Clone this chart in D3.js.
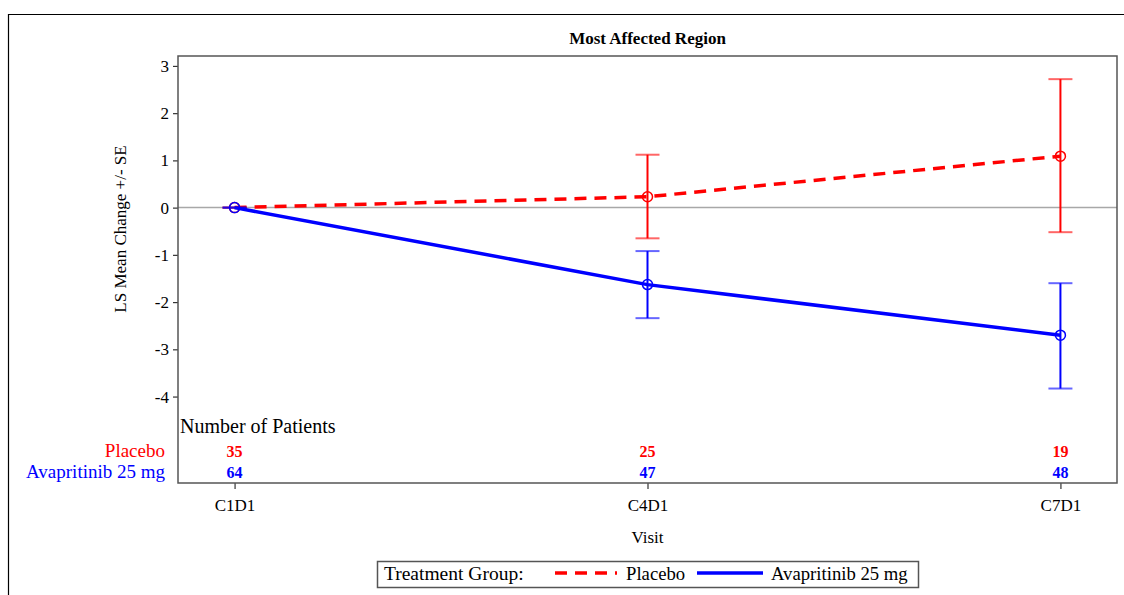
<!DOCTYPE html>
<html>
<head>
<meta charset="utf-8">
<script src="https://cdn.jsdelivr.net/npm/d3@7"></script>
<style>
  body { margin: 0; background: #fff; }
  svg { display: block; font-family: "Liberation Serif", "Times New Roman", serif; }
</style>
</head>
<body>
<div id="chart"></div>
<script>
// data
var visits = ["C1D1", "C4D1", "C7D1"];
var groups = ["Placebo", "Avapritinib 25 mg"];
var placeboMean = [0, 0.23, 1.09];
var placeboLower = [0, -0.65, -0.52];
var placeboUpper = [0, 1.12, 2.72];
var avapMean = [0, -1.63, -2.70];
var avapLower = [0, -2.34, -3.83];
var avapUpper = [0, -0.92, -1.60];
var placeboN = [35, 25, 19];
var avapN = [64, 47, 48];
var yTicks = [-4, -3, -2, -1, 0, 1, 2, 3];

var colors = { "Placebo": "#ff0000", "Avapritinib 25 mg": "#0000ff" };

var series = [
  { name: groups[0], mean: placeboMean, lo: placeboLower, hi: placeboUpper, n: placeboN, dash: "12,8" },
  { name: groups[1], mean: avapMean, lo: avapLower, hi: avapUpper, n: avapN, dash: null }
];

var width = 1124, height = 595;
var plot = { left: 178, top: 56, right: 1117, bottom: 483 };

var svg = d3.select("#chart").append("svg")
  .attr("width", width)
  .attr("height", height);

// outer border (top and left only visible)
svg.append("path")
  .attr("d", "M8.5," + height + "V14.5H" + width)
  .attr("fill", "none")
  .attr("stroke", "#000")
  .attr("stroke-width", 1.2);

var x = d3.scalePoint()
  .domain(visits)
  .range([plot.left, plot.right])
  .padding(0.137);

var y = d3.scaleLinear()
  .domain([-5.83, 3.21])
  .range([plot.bottom, plot.top]);

// title
svg.append("text")
  .attr("x", (plot.left + plot.right) / 2)
  .attr("y", 44)
  .attr("text-anchor", "middle")
  .attr("font-weight", "bold")
  .attr("font-size", 17)
  .text("Most Affected Region");

// reference line at zero
svg.append("line")
  .attr("x1", plot.left).attr("x2", plot.right)
  .attr("y1", y(0)).attr("y2", y(0))
  .attr("stroke", "#a8a8a8")
  .attr("stroke-width", 1.5);

// y axis
var yAxis = svg.append("g")
  .attr("transform", "translate(" + plot.left + ",0)")
  .call(d3.axisLeft(y).tickValues(yTicks).tickSize(5).tickPadding(4)
    .tickFormat(function(d) { return String(d); }));
yAxis.select(".domain").remove();
yAxis.selectAll("line").attr("stroke", "#333").attr("stroke-width", 1.2);
yAxis.selectAll("text")
  .attr("font-family", "Liberation Serif, serif")
  .attr("font-size", 17)
  .attr("fill", "#000");

// x axis
var xAxis = svg.append("g")
  .attr("transform", "translate(0," + plot.bottom + ")")
  .call(d3.axisBottom(x).tickSize(6).tickPadding(10));
xAxis.select(".domain").remove();
xAxis.selectAll("line").attr("stroke", "#333").attr("stroke-width", 1.2);
xAxis.selectAll("text")
  .attr("font-family", "Liberation Serif, serif")
  .attr("font-size", 17)
  .attr("fill", "#000");

// axis titles
svg.append("text")
  .attr("transform", "translate(126,229) rotate(-90)")
  .attr("text-anchor", "middle")
  .attr("font-size", 17)
  .text("LS Mean Change +/- SE");

svg.append("text")
  .attr("x", x("C4D1"))
  .attr("y", 543)
  .attr("text-anchor", "middle")
  .attr("font-size", 17)
  .text("Visit");

// series lines
var line = d3.line()
  .x(function(d, i) { return x(visits[i]); })
  .y(function(d) { return y(d); });

series.forEach(function(s) {
  var g = svg.append("g").attr("class", "series");
  var c = colors[s.name];

  // error bars
  var bars = g.selectAll("g.err")
    .data(visits)
    .enter().append("g")
    .attr("class", "err");
  bars.append("line")
    .attr("x1", function(d) { return x(d); })
    .attr("x2", function(d) { return x(d); })
    .attr("y1", function(d, i) { return y(s.lo[i]); })
    .attr("y2", function(d, i) { return y(s.hi[i]); })
    .attr("stroke", c).attr("stroke-width", 2);
  bars.append("line")
    .attr("x1", function(d) { return x(d) - 12; })
    .attr("x2", function(d) { return x(d) + 12; })
    .attr("y1", function(d, i) { return y(s.hi[i]); })
    .attr("y2", function(d, i) { return y(s.hi[i]); })
    .attr("stroke", c).attr("stroke-width", 2).attr("stroke-opacity", 0.6);
  bars.append("line")
    .attr("x1", function(d) { return x(d) - 12; })
    .attr("x2", function(d) { return x(d) + 12; })
    .attr("y1", function(d, i) { return y(s.lo[i]); })
    .attr("y2", function(d, i) { return y(s.lo[i]); })
    .attr("stroke", c).attr("stroke-width", 2).attr("stroke-opacity", 0.6);

  g.append("path")
    .datum(s.mean)
    .attr("d", line)
    .attr("fill", "none")
    .attr("stroke", c)
    .attr("stroke-width", 3.5)
    .attr("stroke-dasharray", s.dash);

  g.selectAll("circle")
    .data(s.mean)
    .enter().append("circle")
    .attr("cx", function(d, i) { return x(visits[i]); })
    .attr("cy", function(d) { return y(d); })
    .attr("r", 5)
    .attr("fill", "none")
    .attr("stroke", c)
    .attr("stroke-width", 1.5);
});

// patient counts
svg.append("text")
  .attr("x", plot.left + 2)
  .attr("y", 433)
  .attr("font-size", 20)
  .text("Number of Patients");

series.forEach(function(s, k) {
  var yy = 457 + k * 21;
  svg.append("text")
    .attr("x", 165)
    .attr("y", yy)
    .attr("text-anchor", "end")
    .attr("font-size", 19)
    .attr("fill", colors[s.name])
    .text(s.name);
  svg.selectAll("text.n" + k)
    .data(s.n)
    .enter().append("text")
    .attr("class", "n" + k)
    .attr("x", function(d, i) { return x(visits[i]); })
    .attr("y", yy)
    .attr("text-anchor", "middle")
    .attr("font-size", 16)
    .attr("font-weight", "bold")
    .attr("fill", colors[s.name])
    .text(function(d) { return d; });
});

// plot frame
svg.append("rect")
  .attr("x", plot.left).attr("y", plot.top)
  .attr("width", plot.right - plot.left)
  .attr("height", plot.bottom - plot.top)
  .attr("fill", "none")
  .attr("stroke", "#555")
  .attr("stroke-width", 1.5);

// legend
var legend = svg.append("g").attr("class", "legend");
legend.append("rect")
  .attr("x", 377.5).attr("y", 561.5)
  .attr("width", 541).attr("height", 26)
  .attr("fill", "#fff")
  .attr("stroke", "#555")
  .attr("stroke-width", 1.5);
legend.append("text")
  .attr("x", 384).attr("y", 580)
  .attr("font-size", 19.5)
  .text("Treatment Group:");

var legendItems = [
  { name: groups[0], x1: 555, x2: 617, tx: 626, dash: "12,8" },
  { name: groups[1], x1: 697, x2: 763, tx: 771, dash: null }
];
legendItems.forEach(function(it) {
  legend.append("line")
    .attr("x1", it.x1).attr("x2", it.x2)
    .attr("y1", 573).attr("y2", 573)
    .attr("stroke", colors[it.name])
    .attr("stroke-width", 3.5)
    .attr("stroke-dasharray", it.dash);
  legend.append("text")
    .attr("x", it.tx).attr("y", 580)
    .attr("font-size", 18.7)
    .text(it.name);
});
</script>
</body>
</html>
